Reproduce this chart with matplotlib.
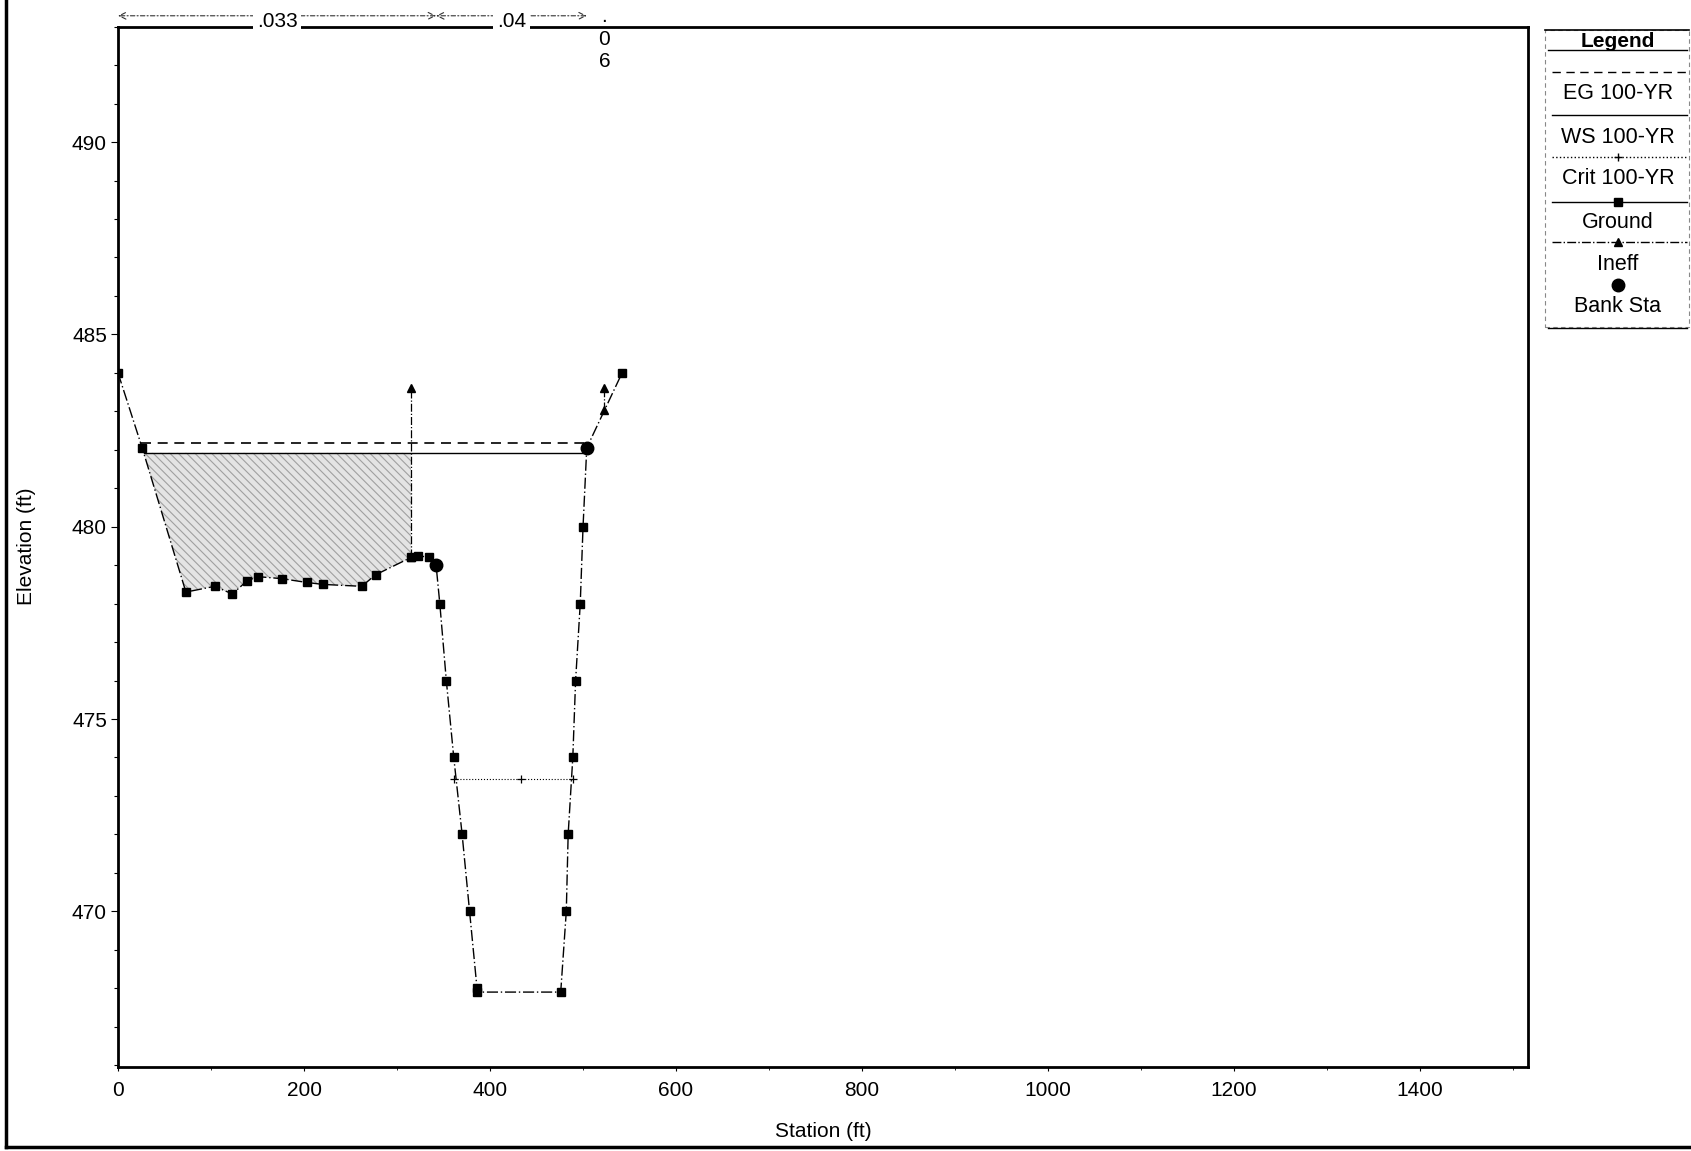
import numpy as np
import matplotlib
matplotlib.use("Agg")
import matplotlib.pyplot as plt
from matplotlib.lines import Line2D
from matplotlib.patches import Rectangle
from matplotlib.ticker import MultipleLocator

plt.rcParams['font.family'] = ['Liberation Sans', 'DejaVu Sans']
plt.rcParams['hatch.linewidth'] = 0.8

# ---------------- data ----------------
ground_sta = [0, 26, 73, 104, 123, 139, 151, 176, 203, 220, 262, 277, 315, 323, 334, 342,
              346, 353, 361, 370, 378, 386, 386, 476, 482, 484, 489, 492, 497, 500, 504, 542]
ground_elev = [484.0, 482.05, 478.3, 478.45, 478.25, 478.6, 478.7, 478.65, 478.55, 478.5,
               478.45, 478.75, 479.2, 479.25, 479.2, 479.0, 478.0, 476.0, 474.0, 472.0,
               470.0, 468.0, 467.9, 467.9, 470.0, 472.0, 474.0, 476.0, 478.0, 480.0,
               482.05, 484.0]
eg_elev = 482.17
ws_elev = 481.92
crit_sta = [361, 433, 489]
crit_elev = [473.45, 473.45, 473.45]
ineff_sta = [315, 523]
ineff_elev = [483.6, 483.6]
bank_sta = [342, 504]
n_values = ['.033', '.04', '.06']
n_breaks = [0, 342, 504, 542]
shade_range = [26, 315]

xticks = [0, 200, 400, 600, 800, 1000, 1200, 1400]
yticks = [470, 475, 480, 485, 490]
legend_labels = ['EG 100-YR', 'WS 100-YR', 'Crit 100-YR', 'Ground', 'Ineff', 'Bank Sta']

# ---------------- helpers ----------------
gs = np.array(ground_sta, float)
ge = np.array(ground_elev, float)


def crossings(level):
    pts = []
    for i in range(len(gs) - 1):
        a, b = ge[i] - level, ge[i + 1] - level
        if a == 0:
            pts.append(gs[i])
        elif a * b < 0:
            pts.append(gs[i] + (gs[i + 1] - gs[i]) * a / (a - b))
    return min(pts), max(pts)


W, H = 1691, 1151
fig = plt.figure(figsize=(W / 100, H / 100), dpi=100)


def fx(px):
    return px / W


def fy(py):
    return 1 - py / H


ax = fig.add_axes([fx(118), fy(1066.7), fx(1528) - fx(118), fy(26.7) - fy(1066.7)])
ax.set_xlim(0, 1516)
ax.set_ylim(465.96, 493.0)

# shaded area
m = (gs >= shade_range[0]) & (gs <= shade_range[1])
xs = np.concatenate([[crossings(ws_elev)[0]], gs[m]])
xs = np.unique(xs)
ys = np.interp(xs, gs, ge)
ax.fill_between(xs, ys, ws_elev, facecolor='#e4e4e4', edgecolor='#a0a0a0',
                hatch='\\\\\\\\', linewidth=0, zorder=1)

# EG and WS
eg_l, eg_r = crossings(eg_elev)
ws_l, ws_r = crossings(ws_elev)
ax.plot([eg_l, min(eg_r, bank_sta[1])], [eg_elev, eg_elev], color='black', lw=1.2,
        ls=(0, (6, 4)), zorder=3)
ax.plot([ws_l, ws_r], [ws_elev, ws_elev], color='black', lw=1.0, zorder=3)

# Crit
ax.plot(crit_sta, crit_elev, color='black', lw=0.8, ls=':', marker='+', ms=6,
        mew=0.9, zorder=3)

# Ground
ax.plot(gs, ge, color='black', lw=1.0, ls=(0, (8, 2, 1, 2)), marker='s', ms=5.5,
        zorder=4)

# Ineff
for s, e in zip(ineff_sta, ineff_elev):
    g = np.interp(s, gs, ge)
    ax.plot([s, s], [g, e], color='black', lw=0.9, ls='-.', marker='^', ms=5.5,
            zorder=4)

# Bank stations
ax.plot(bank_sta, np.interp(bank_sta, gs, ge), ls='none', marker='o', ms=9,
        color='black', zorder=5)

# Manning n annotations
ytop_arrow = 1.0105
tr = ax.get_xaxis_transform()
for i, nv in enumerate(n_values):
    x0, x1 = n_breaks[i], n_breaks[i + 1]
    xc = (x0 + x1) / 2
    if i < 2:
        ax.annotate('', xy=(x0, ytop_arrow), xytext=(x1, ytop_arrow), xycoords=tr,
                    textcoords=tr,
                    arrowprops=dict(arrowstyle='<->', lw=0.8, ls=(0, (4, 2, 1, 2)),
                                    color='#333333', shrinkA=0, shrinkB=0,
                                    mutation_scale=12),
                    annotation_clip=False)
        ax.text(xc, 0.9995, nv, transform=tr, ha='center', va='baseline', fontsize=15,
                bbox=dict(facecolor='white', edgecolor='none', pad=2.5), zorder=6,
                clip_on=False)
    else:
        ax.text(xc, 1.0045, '.', transform=tr, ha='center', va='baseline', fontsize=15,
                zorder=6, clip_on=False)
        ax.text(xc, 0.988, nv[1], transform=tr, ha='center', va='center', fontsize=15,
                zorder=6)
        ax.text(xc, 0.967, nv[2], transform=tr, ha='center', va='center', fontsize=15,
                zorder=6)

# axes styling
for sp in ax.spines.values():
    sp.set_linewidth(2.0)
ax.set_xticks(xticks)
ax.set_yticks(yticks)
ax.xaxis.set_minor_locator(MultipleLocator(100))
ax.yaxis.set_minor_locator(MultipleLocator(1))
ax.tick_params(axis='both', which='major', labelsize=15, width=0.8)
ax.tick_params(axis='x', which='major', length=3, pad=7)
ax.tick_params(axis='y', which='major', length=5, pad=3)
ax.tick_params(axis='x', which='minor', length=2, width=0.6)
ax.tick_params(axis='y', which='minor', length=3, width=0.8)
ax.set_xlabel('Station (ft)', fontsize=15, labelpad=16)
ax.set_ylabel('Elevation (ft)', fontsize=15, labelpad=26)

# outer border
fig.add_artist(Line2D([fx(6), fx(6)], [fy(0), fy(1147)], transform=fig.transFigure,
                      color='black', lw=2.5))
fig.add_artist(Line2D([fx(6), fx(1691)], [fy(1147), fy(1147)], transform=fig.transFigure,
                      color='black', lw=2.5))

# legend box (HEC-RAS style)
lx0, lx1 = 1545, 1689
fig.add_artist(Rectangle((fx(lx0), fy(327)), fx(lx1) - fx(lx0), fy(30) - fy(327),
                         transform=fig.transFigure, fill=False, edgecolor='#888888',
                         lw=0.8, ls=(0, (4, 3))))
fig.add_artist(Line2D([fx(lx0), fx(lx1)], [fy(30), fy(30)], transform=fig.transFigure,
                      color='black', lw=1.2))
fig.text(fx(1618), fy(41.7), 'Legend', ha='center', va='center', fontsize=15,
         fontweight='bold')
fig.add_artist(Line2D([fx(1548), fx(1687)], [fy(50), fy(50)], transform=fig.transFigure,
                      color='black', lw=1.0))

samples = [
    dict(ls=(0, (6, 4)), marker=None),
    dict(ls='-', marker=None),
    dict(ls=':', marker='+'),
    dict(ls='-', marker='s'),
    dict(ls='-.', marker='^'),
    dict(ls='none', marker='o'),
]
line_y = [71.7, 115, 156.7, 201.7, 241.7, 284.5]
label_y = [93.5, 137.5, 179, 222.5, 264, 307]
for lab, smp, ly, ty in zip(legend_labels, samples, line_y, label_y):
    if smp['ls'] != 'none':
        fig.add_artist(Line2D([fx(1552), fx(1687)], [fy(ly), fy(ly)],
                              transform=fig.transFigure, color='black', lw=1.0,
                              ls=smp['ls']))
    if smp['marker']:
        ms = 9 if smp['marker'] == 'o' else 5.5
        fig.add_artist(Line2D([fx(1618)], [fy(ly)], transform=fig.transFigure,
                              color='black', ls='none', marker=smp['marker'], ms=ms))
    fig.text(fx(1618), fy(ty), lab, ha='center', va='center', fontsize=15.5)
fig.add_artist(Line2D([fx(1548), fx(1687)], [fy(328), fy(328)],
                      transform=fig.transFigure, color='black', lw=1.0))

fig.savefig('out.png', dpi=100)
